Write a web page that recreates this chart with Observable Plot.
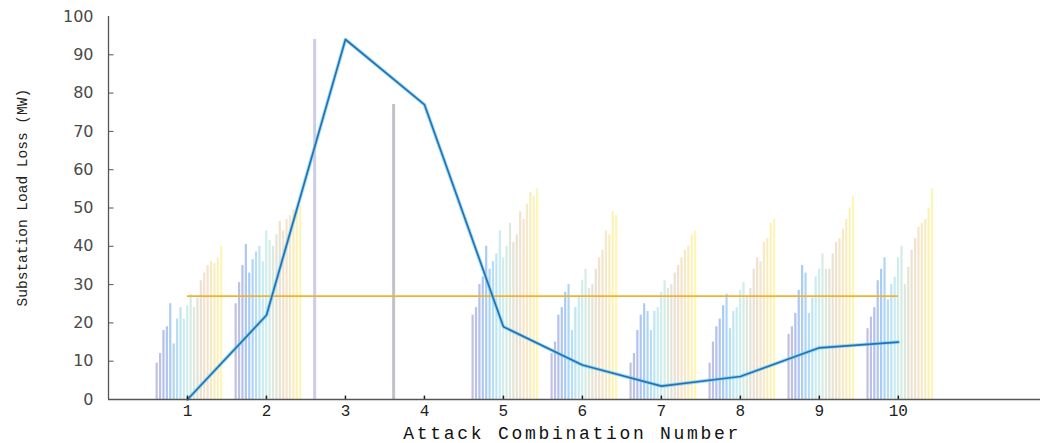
<!DOCTYPE html>
<html>
<head>
<meta charset="utf-8">
<script src="https://cdn.jsdelivr.net/npm/d3@7"></script>
<script src="https://cdn.jsdelivr.net/npm/@observablehq/plot@0.6"></script>
<style>
  html, body { margin: 0; padding: 0; background: #fff; }
  #chart { width: 1047px; height: 443px; }
</style>
</head>
<body>
<div id="chart"></div>
<script>
// ---- data ----
const xTicks = [1, 2, 3, 4, 5, 6, 7, 8, 9, 10];
const yTicks = [0, 10, 20, 30, 40, 50, 60, 70, 80, 90, 100];
const lineValues = [0, 22, 94, 77, 19, 9, 3.5, 6, 13.5, 15];
const thresholdValue = 27;

const bars1 = [9.5, 12, 18, 19, 25, 14.5, 21, 24, 21, 24.5, 27.5, 24, 26.5, 31, 33, 35, 36, 35.5, 37, 40];
const bars2 = [25, 30.5, 35, 40.5, 33, 36.5, 38.5, 40, 36, 44, 41.5, 40, 43, 46.5, 44, 47, 48, 49.5, 50, 50.5];
const bars3 = [94];
const bars4 = [77];
const bars5 = [22, 24, 30, 32, 40, 34, 36, 38, 44, 37, 40, 46, 41, 43, 49, 47, 51, 54, 53, 55];
const bars6 = [12, 15, 22, 24, 28, 30, 18, 24, 27, 31, 34, 29, 30, 34, 37, 39, 44, 43, 49, 48];
const bars7 = [9.5, 12, 18, 22, 25, 23, 18, 23, 24, 28, 31, 29, 30, 33, 35, 37, 39, 40, 43, 44];
const bars8 = [9.5, 15, 19, 21, 24.5, 27.5, 18.5, 23, 24, 28.5, 30.5, 27, 29, 34, 37, 36, 41, 42, 46, 47];
const bars9 = [17, 19, 22.5, 28.5, 35, 33, 22.5, 26.5, 32, 34, 38, 34, 34, 38, 41, 42, 44.5, 47, 50, 53];
const bars10 = [18.5, 21.5, 24, 31, 34, 37, 26, 30, 32, 37, 40, 30, 34.5, 39, 42, 45, 46, 47, 50, 55];

const xLabel = "Attack Combination Number";
const yLabel = "Substation Load Loss (MW)";

// ---- styling ----
const palette = ["#b3b0d8", "#9fb2ea", "#93c0f2", "#a8daf2", "#bfeaee", "#cfe6d6", "#e3d9c6", "#f2dcc0", "#f8e8b0", "#fff3a3"];
const interp = d3.piecewise(d3.interpolateRgb, palette);
const singleColors = {3: "#c2c0e2", 4: "#b2b2bc"};
const groupStart = -0.39, barStep = 0.043;

const barGroups = [bars1, bars2, bars3, bars4, bars5, bars6, bars7, bars8, bars9, bars10];
const barTable = barGroups.flatMap((vals, gi) => vals.map((v, i) => ({
  g: xTicks[gi],
  x: xTicks[gi] + groupStart + i * barStep,
  y: v,
  i,
  n: vals.length
})));
const lineTable = xTicks.map((x, k) => ({x, y: lineValues[k]}));

const chart = Plot.plot({
  width: 1047,
  height: 443,
  marginLeft: 108,
  marginRight: 7,
  marginTop: 16,
  marginBottom: 44,
  style: {background: "#fff"},
  x: {domain: [0, 11.8], axis: null},
  y: {domain: [0, 100], axis: null},
  marks: [
    Plot.ruleX(barTable, {
      x: "x", y1: 0, y2: "y",
      stroke: d => d.n === 1 ? singleColors[d.g] : interp(d.i / (d.n - 1)),
      strokeWidth: d => d.n === 1 ? 3 : 2.2,
      strokeOpacity: 0.8
    }),
    Plot.ruleY([thresholdValue], {x1: xTicks[0], x2: xTicks[xTicks.length - 1], stroke: "#f0b232", strokeWidth: 1.6}),
    Plot.line(lineTable, {x: "x", y: "y", stroke: "#6fd2f2", strokeWidth: 3.6, strokeOpacity: 0.7}),
    Plot.line(lineTable, {x: "x", y: "y", stroke: "#2a6fb2", strokeWidth: 1.7}),
    // axis lines
    Plot.ruleX([0], {y1: 0, y2: 100, stroke: "#555", strokeWidth: 1.3}),
    Plot.ruleY([0], {x1: 0, x2: 11.8, stroke: "#555", strokeWidth: 1.3}),
    // inward ticks
    Plot.ruleY(yTicks.slice(1, -1), {x1: 0, x2: 0.07, stroke: "#555", strokeWidth: 1}),
    Plot.ruleX(xTicks, {y1: 0, y2: 0.9, stroke: "#222", strokeWidth: 1.5}),
    Plot.axisY(yTicks, {tickSize: 0, tickPadding: 15, label: null, fontSize: 16, fontFamily: "DejaVu Sans", fill: "#4a4a4a"}),
    Plot.axisX(xTicks, {tickSize: 0, tickPadding: 5, label: null, fontSize: 16, fontFamily: "Liberation Mono", fill: "#222"}),
    Plot.text([xLabel], {frameAnchor: "bottom", x: () => 5.87, dy: 34, text: d => d, fontSize: 18, fontFamily: "Liberation Mono", fill: "#111", lineAnchor: "middle", className: "xlabel"}),
    Plot.text([yLabel], {x: () => -1.09, y: () => 52.7, rotate: -90, text: d => d, fontSize: 14.5, fontFamily: "Liberation Mono", fill: "#222"})
  ]
});

d3.select(chart).selectAll(".xlabel text").style("letter-spacing", "2.7px");
document.getElementById("chart").appendChild(chart);
</script>
</body>
</html>
